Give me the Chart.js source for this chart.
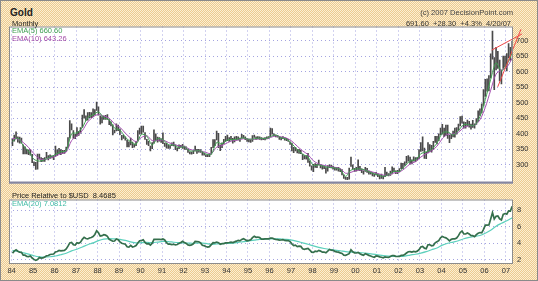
<!DOCTYPE html>
<html>
<head>
<meta charset="utf-8">
<script src="https://cdn.jsdelivr.net/npm/chart.js@4.4.1/dist/chart.umd.min.js"></script>
<style>
  html, body { margin: 0; padding: 0; }
  #wrap {
    position: relative; width: 538px; height: 281px; overflow: hidden;
    background: repeating-conic-gradient(#ecca8f 0% 25%, #fcefd2 0% 50%) 0 0 / 2px 2px;
    font-family: "Liberation Sans", Arial, sans-serif;
  }
  #frame { position: absolute; left: 0; top: 0; width: 536px; height: 279px; border: 1px solid #8a8a8a; pointer-events: none; }
  canvas { position: absolute; left: 0; }
  .t { position: absolute; white-space: pre; line-height: 1; }
</style>
</head>
<body>
<div id="wrap">
  <canvas id="top" width="538" height="172" style="top:19px;width:538px;height:172px"></canvas>
  <canvas id="bot" width="538" height="90" style="top:191px;width:538px;height:90px"></canvas>
  <div class="t" style="left:10px;top:8px;font-size:10px;font-weight:bold;color:#222">Gold</div>
  <div class="t" style="right:25px;top:9px;font-size:7.6px;color:#444">(c) 2007 DecisionPoint.com</div>
  <div class="t" style="right:27px;top:19.5px;font-size:7.5px;color:#333">691.60  +28.30  +4.3%  4/20/07</div>
  <div class="t" style="left:12px;top:19.5px;font-size:7.5px;color:#222">Monthly</div>
  <div class="t" style="left:12px;top:27px;font-size:7.5px;color:#3f9f52">EMA(5) 660.60</div>
  <div class="t" style="left:12px;top:34.5px;font-size:7.5px;color:#a24aa6">EMA(10) 643.26</div>
  <div class="t" style="left:12px;top:191.5px;font-size:7.5px;color:#222">Price Relative to $USD  8.4685</div>
  <div class="t" style="left:12px;top:199.5px;font-size:7.5px;color:#43bca6">EMA(20) 7.0812</div>
  <div id="frame"></div>
</div>
<script>
// ---------- data (monthly, Jan 1984 .. Apr 2007) ----------
const START_YEAR = 1984;
const yearTicks = [1984,1985,1986,1987,1988,1989,1990,1991,1992,1993,1994,1995,1996,1997,1998,1999,2000,2001,2002,2003,2004,2005,2006,2007];
const yearLabels = ['84','85','86','87','88','89','90','91','92','93','94','95','96','97','98','99','00','01','02','03','04','05','06','07'];
const priceTicks = [300,350,400,450,500,550,600,650,700];
const relTicks = [2,4,6,8];

const goldLow = [
362,376,384,373,370,370,335,335,335,333,331,307,
297,285,286,318,310,311,311,323,316,321,322,317,
327,330,336,333,337,337,342,356,386,412,385,384,
392,395,402,420,450,443,444,452,452,455,460,475,
460,431,435,446,446,446,429,425,396,403,409,410,
397,380,385,379,358,358,364,355,357,362,377,399,
400,405,382,366,362,345,352,370,380,373,376,372,
368,359,354,353,353,362,361,349,345,352,357,353,
350,350,340,335,334,336,345,337,341,340,331,331,
326,326,326,334,355,362,380,355,346,355,367,375,
378,375,379,370,374,379,380,375,386,386,381,375,
374,372,375,388,382,383,382,380,381,380,383,385,
390,399,394,390,389,382,380,384,379,378,375,366,
345,339,345,338,337,336,317,319,318,308,296,283,
278,292,291,300,290,286,288,273,280,291,290,286,
283,283,280,278,268,256,253,252,254,295,287,279,
280,283,281,275,270,279,276,270,270,264,263,268,
262,255,256,255,262,265,264,266,271,277,272,272,
277,288,288,298,305,312,302,303,312,310,315,320,
343,345,321,320,338,343,341,349,372,367,378,397,
399,391,395,385,371,384,390,389,399,411,425,434,
418,418,425,421,415,420,418,430,440,459,467,490,
520,537,538,580,640,542,605,610,570,560,610,615,
602,644,636,665];
const goldHigh = [
384,396,406,390,389,386,364,358,350,348,349,334,
310,308,335,335,323,321,323,340,330,332,329,328,
360,348,353,349,347,347,357,388,442,432,410,398,
420,408,420,460,478,458,468,469,468,480,478,502,
487,458,455,457,459,462,446,438,429,412,432,428,
416,395,396,390,380,374,386,373,367,375,410,418,
425,425,404,382,376,360,372,413,400,389,388,384,
403,370,370,364,362,371,373,364,355,364,363,366,
360,358,350,342,341,345,360,350,350,349,340,338,
332,333,336,356,381,381,409,401,364,371,382,392,
396,388,392,385,390,392,390,386,398,395,390,384,
382,380,394,396,390,391,390,388,386,388,390,391,
418,417,400,396,395,390,388,391,388,385,382,374,
370,356,356,350,350,347,335,330,330,337,313,297,
302,304,302,315,302,298,296,291,298,300,299,296,
292,292,292,287,285,268,260,260,290,325,300,289,
292,316,295,287,281,292,289,280,277,275,270,276,
271,268,270,265,292,277,272,280,294,290,281,282,
288,306,305,310,327,330,325,316,326,323,324,349,
372,390,354,340,372,365,363,376,392,392,400,418,
430,418,428,428,395,398,409,418,420,431,455,457,
438,437,444,440,431,443,432,449,474,480,496,542,
575,577,587,657,730,645,678,665,637,605,650,650,
658,690,678,698];

// quarterly readings (Jan, Apr, Jul, Oct)
const ema5 = [
375,386,362,343, 318,312,317,325, 333,342,345,400, 403,420,452,461,
470,452,445,418, 412,389,374,366, 398,392,364,384, 381,365,364,356,
358,345,345,345, 335,334,372,368, 380,381,383,387, 382,384,386,384,
391,396,387,383, 368,349,334,325, 298,300,295,292, 290,285,263,283,
287,286,281,273, 268,263,268,279, 279,295,313,316, 336,342,350,370,
402,406,396,410, 430,428,427,455, 510,575,628,603, 622,660.6];
const ema10 = [
385,383,372,356, 336,320,317,322, 328,336,341,378, 393,410,438,454,
462,457,450,432, 421,402,386,375, 388,394,378,379, 380,372,366,361,
359,350,346,345, 340,336,357,362, 371,378,380,384, 383,382,384,384,
388,393,390,386, 376,360,345,333, 313,303,298,295, 292,288,273,276,
282,284,282,277, 272,267,267,274, 277,288,303,310, 325,336,345,360,
384,398,399,405, 420,426,427,445, 485,540,592,605, 614,643.26];

// red trend lines (year, price)
const trendUpperX = [2006.34, 2007.75], trendUpperY = [669, 721];
const trendLowerX = [2006.62, 2007.70], trendLowerY = [551, 736];

// price relative to $USD (monthly)
const rel = [
2.77,3.02,3.18,3.00,2.88,2.86,2.52,2.52,2.37,2.36,2.42,2.18,
2.01,1.89,2.00,2.23,2.16,2.19,2.31,2.44,2.49,2.61,2.64,2.66,
2.92,2.97,3.09,3.04,3.08,3.11,3.29,3.62,4.02,4.07,3.79,3.76,
4.05,3.98,4.10,4.45,4.70,4.55,4.50,4.62,4.68,4.78,5.05,5.50,
5.25,4.85,4.90,5.02,4.96,4.82,4.45,4.35,4.22,4.25,4.50,4.40,
4.15,3.98,3.92,3.86,3.55,3.50,3.72,3.52,3.58,3.70,4.00,4.28,
4.30,4.40,4.08,3.90,3.93,3.76,3.98,4.45,4.44,4.45,4.46,4.42,
4.50,4.38,4.05,3.87,3.86,3.80,3.85,3.78,3.82,3.96,4.06,4.22,
4.05,3.95,3.77,3.72,3.78,3.90,4.20,4.18,4.16,4.02,3.72,3.68,
3.58,3.51,3.56,3.80,4.05,4.03,4.12,4.04,3.86,3.92,3.94,4.02,
4.03,4.07,4.12,4.06,4.14,4.23,4.33,4.27,4.44,4.52,4.41,4.27,
4.32,4.40,4.66,4.82,4.70,4.73,4.66,4.48,4.47,4.51,4.50,4.51,
4.60,4.61,4.51,4.43,4.41,4.35,4.37,4.42,4.32,4.30,4.31,4.17,
3.90,3.69,3.74,3.56,3.62,3.59,3.31,3.24,3.30,3.35,3.15,2.89,
2.86,3.01,2.96,3.11,3.02,2.89,2.90,2.81,3.01,3.22,3.13,3.11,
2.99,2.93,2.89,2.80,2.73,2.53,2.51,2.60,2.70,3.17,2.93,2.81,
2.79,2.86,2.70,2.59,2.50,2.70,2.61,2.50,2.42,2.33,2.27,2.43,
2.40,2.32,2.27,2.21,2.31,2.27,2.25,2.37,2.48,2.46,2.38,2.36,
2.37,2.49,2.49,2.61,2.79,2.94,2.95,2.90,2.98,2.94,3.01,3.20,
3.53,3.59,3.38,3.31,3.79,3.79,3.66,3.71,4.03,4.16,4.29,4.64,
4.81,4.71,4.63,4.48,4.27,4.45,4.52,4.51,4.60,4.90,5.29,5.46,
5.11,5.10,5.23,5.11,4.91,4.90,4.78,5.03,5.18,5.28,5.24,5.67,
6.18,6.17,6.19,6.94,7.70,6.93,7.25,7.30,6.95,6.81,7.48,7.59,
7.51,7.92,7.89,8.47];
// EMA(20) of the relative line (quarterly readings)
const relEma20 = [
3.10,2.98,2.82,2.65, 2.45,2.32,2.28,2.33, 2.42,2.58,2.76,3.05, 3.25,3.52,3.80,4.02,
4.30,4.48,4.55,4.50, 4.45,4.32,4.15,4.02, 4.05,4.08,4.05,4.12, 4.20,4.18,4.10,4.04,
4.02,3.98,3.98,4.02, 3.95,3.85,3.90,3.94, 3.96,4.00,4.08,4.18, 4.25,4.35,4.45,4.48,
4.51,4.52,4.49,4.45, 4.35,4.20,4.02,3.85, 3.65,3.48,3.34,3.22, 3.14,3.06,2.95,2.90,
2.87,2.82,2.75,2.66, 2.56,2.46,2.40,2.38, 2.38,2.42,2.54,2.64, 2.78,2.95,3.18,3.40,
3.75,3.98,4.12,4.28, 4.52,4.68,4.80,4.92, 5.20,5.55,6.05,6.40, 6.72,7.08];

// ---------- helpers ----------
const X_MIN = 1983.88, X_MAX = 2007.33;
const monthX = i => START_YEAR + (i + 0.5) / 12;
const quarterX = q => START_YEAR + (q * 3 + 0.5) / 12;
const hlBars = goldLow.map((lo, i) => ({ x: monthX(i), y: [lo, goldHigh[i]] }));
const ema5Pts = ema5.map((v, q) => ({ x: quarterX(q), y: v }));
const ema10Pts = ema10.map((v, q) => ({ x: quarterX(q), y: v }));
const trendU = trendUpperX.map((x, i) => ({ x, y: trendUpperY[i] }));
const trendL = trendLowerX.map((x, i) => ({ x, y: trendLowerY[i] }));
const relPts = rel.map((v, i) => ({ x: monthX(i), y: v }));
const relEmaPts = relEma20.map((v, q) => ({ x: quarterX(q), y: v }));

const GRID = '#a4a4e0';
const tickFont = { family: '"Liberation Sans", Arial, sans-serif', size: 7.5 };

const panel = (separator) => ({
  id: 'panel',
  beforeDraw(c) {
    const a = c.chartArea, g = c.ctx;
    g.save(); g.fillStyle = '#ffffff';
    g.fillRect(a.left, a.top, a.right - a.left, a.bottom - a.top);
    g.restore();
  },
  afterDraw(c) {
    const a = c.chartArea, g = c.ctx;
    g.save();
    g.strokeStyle = '#8c8c8c'; g.lineWidth = 1;
    g.strokeRect(a.left + 0.5, a.top + 0.5, a.right - a.left - 1, a.bottom - a.top - 1);
    if (separator) { g.fillStyle = '#8585a0'; g.fillRect(a.left, a.bottom - 2, a.right - a.left, 2); }
    g.restore();
  }
});

const xScale = (showLabels) => ({
  type: 'linear', min: X_MIN, max: X_MAX, offset: false,
  afterBuildTicks: s => { s.ticks = yearTicks.map(v => ({ value: v })); },
  afterFit: s => { s.height = showLabels ? 17 : 0; },
  ticks: { display: showLabels, autoSkip: false, maxRotation: 0, padding: 2, font: tickFont, color: '#333',
           callback: (v, i) => yearLabels[i] },
  grid: { color: GRID, lineWidth: 1, drawTicks: false, offset: false },
  border: { display: false, dash: [1, 3] }
});

Chart.defaults.devicePixelRatio = 1;

new Chart(document.getElementById('top'), {
  type: 'bar',
  data: { datasets: [
    { type: 'line', data: trendU, borderColor: '#f04848', borderWidth: 1, pointRadius: 0, clip: false, order: 0 },
    { type: 'line', data: trendL, borderColor: '#f04848', borderWidth: 1, pointRadius: 0, clip: false, order: 0 },
    { type: 'line', data: ema5Pts, borderColor: '#3fa050', borderWidth: 1, pointRadius: 0, tension: 0.3, order: 1 },
    { type: 'line', data: ema10Pts, borderColor: '#a650b0', borderWidth: 1, pointRadius: 0, tension: 0.3, order: 2 },
    { type: 'bar', data: hlBars, backgroundColor: '#4a4a4a', borderWidth: 0, barThickness: 1, order: 5 }
  ]},
  options: {
    responsive: false, animation: false,
    layout: { padding: { left: 9, right: 0, top: 0, bottom: 0 } },
    plugins: { legend: { display: false }, tooltip: { enabled: false } },
    scales: {
      x: xScale(false),
      y: {
        position: 'right', min: 240, max: 745,
        afterBuildTicks: s => { s.ticks = priceTicks.map(v => ({ value: v })); },
        afterFit: s => { s.width = 25; },
        ticks: { font: tickFont, color: '#333', padding: 3 },
        grid: { color: GRID, lineWidth: 1, drawTicks: false },
        border: { display: false, dash: [1, 3] }
      }
    }
  },
  plugins: [panel(true)]
});

new Chart(document.getElementById('bot'), {
  type: 'line',
  data: { datasets: [
    { data: relPts, borderColor: '#346f4c', borderWidth: 1.7, pointRadius: 0, order: 0 },
    { data: relEmaPts, borderColor: '#5cd0bc', borderWidth: 1.2, pointRadius: 0, tension: 0.3, order: 1 }
  ]},
  options: {
    responsive: false, animation: false,
    layout: { padding: { left: 9, right: 0, top: 0, bottom: 0 } },
    plugins: { legend: { display: false }, tooltip: { enabled: false } },
    scales: {
      x: xScale(true),
      y: {
        position: 'right', min: 1.45, max: 9.3,
        afterBuildTicks: s => { s.ticks = relTicks.map(v => ({ value: v })); },
        afterFit: s => { s.width = 25; },
        ticks: { font: tickFont, color: '#333', padding: 4 },
        grid: { color: GRID, lineWidth: 1, drawTicks: false },
        border: { display: false, dash: [1, 3] }
      }
    }
  },
  plugins: [panel(false)]
});
</script>
</body>
</html>
